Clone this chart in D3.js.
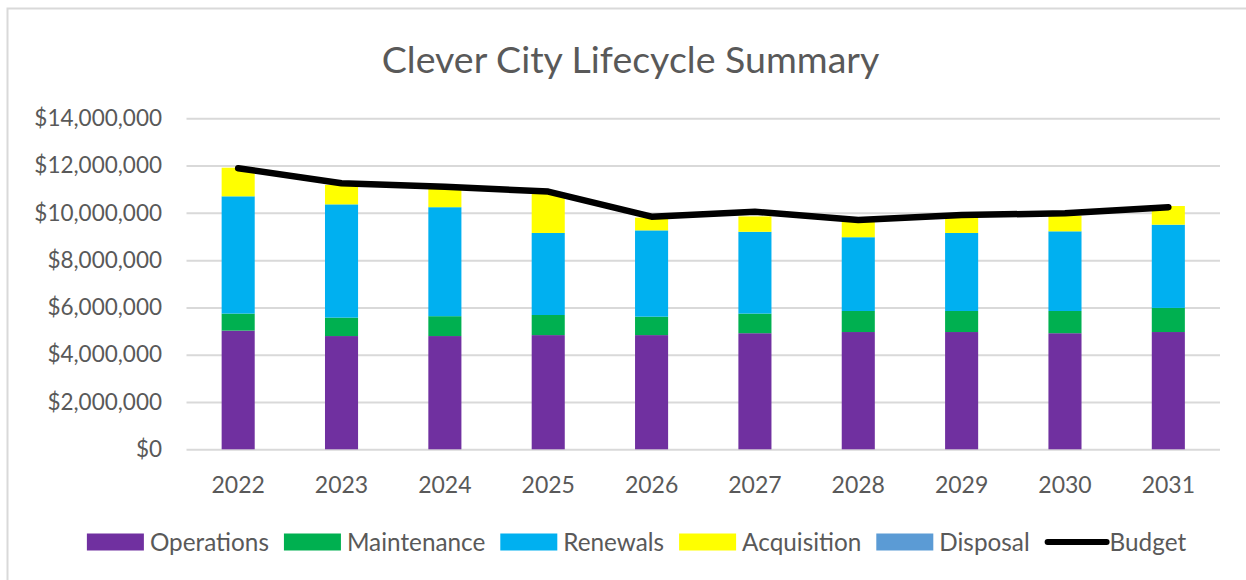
<!DOCTYPE html>
<html>
<head>
<meta charset="utf-8">
<script src="https://cdn.jsdelivr.net/npm/d3@7"></script>
<style>
  html, body { margin: 0; padding: 0; background: #ffffff; }
  svg { display: block; }
  text { font-family: Lato, "Open Sans", sans-serif; fill: #595959; }
</style>
</head>
<body>
<svg id="chart" width="1246" height="580"></svg>
<script>
// ---- Data ----
const years = ["2022", "2023", "2024", "2025", "2026", "2027", "2028", "2029", "2030", "2031"];
const operations  = [5020000, 4790000, 4790000, 4830000, 4830000, 4910000, 4960000, 4960000, 4910000, 4960000];
const maintenance = [720000, 780000, 840000, 850000, 780000, 830000, 890000, 890000, 940000, 1020000];
const renewals    = [4960000, 4790000, 4610000, 3470000, 3650000, 3460000, 3120000, 3300000, 3370000, 3520000];
const acquisition = [1210000, 820000, 800000, 1700000, 540000, 650000, 650000, 650000, 660000, 790000];
const disposal    = [0, 0, 0, 0, 0, 0, 0, 0, 0, 0];
const budget      = [11890000, 11250000, 11110000, 10900000, 9840000, 10050000, 9700000, 9910000, 9980000, 10240000];
const yTicks = [0, 2000000, 4000000, 6000000, 8000000, 10000000, 12000000, 14000000];
const seriesNames = ["Operations", "Maintenance", "Renewals", "Acquisition", "Disposal"];
const seriesColors = ["#7030A0", "#00B050", "#00B0F0", "#FFFF00", "#5B9BD5"];
const title = "Clever City Lifecycle Summary";

// ---- Layout ----
const W = 1246, H = 580;
const plot = { left: 186.5, right: 1220, top: 118.3, bottom: 449.3 };

const svg = d3.select("#chart");
svg.append("rect").attr("width", W).attr("height", H).attr("fill", "#fff");
// chart area border
svg.append("rect")
  .attr("x", 7.5).attr("y", 8.5).attr("width", W + 20).attr("height", H + 20)
  .attr("fill", "none").attr("stroke", "#d9d9d9").attr("stroke-width", 2);

// table built from arrays
const table = years.map((y, i) => ({
  year: y,
  Operations: operations[i],
  Maintenance: maintenance[i],
  Renewals: renewals[i],
  Acquisition: acquisition[i],
  Disposal: disposal[i],
  Budget: budget[i]
}));

const x = d3.scaleBand().domain(years).range([plot.left, plot.right]).paddingInner(0.68).paddingOuter(0.34);
const y = d3.scaleLinear().domain([0, 14000000]).range([plot.bottom, plot.top]);
const color = d3.scaleOrdinal().domain(seriesNames).range(seriesColors);

// gridlines + y labels
const yAxis = d3.axisLeft(y).tickValues(yTicks).tickFormat(d3.format("$,.0f"))
  .tickSize(-(plot.right - plot.left)).tickPadding(24.5);
const gy = svg.append("g").attr("transform", `translate(${plot.left},0)`).call(yAxis);
gy.select(".domain").remove();
gy.selectAll(".tick line").attr("stroke", "#d9d9d9").attr("stroke-width", 2);
gy.selectAll(".tick text").attr("font-size", 22.5).attr("fill", "#595959")
  .style("font-family", "Lato, 'Open Sans', sans-serif");

// stacked bars
const stack = d3.stack().keys(seriesNames);
const layers = stack(table);
svg.append("g").selectAll("g").data(layers).join("g")
  .attr("fill", d => color(d.key))
  .selectAll("rect").data(d => d).join("rect")
  .attr("x", d => x(d.data.year))
  .attr("width", x.bandwidth())
  .attr("y", d => y(d[1]))
  .attr("height", d => y(d[0]) - y(d[1]));

// budget line
const line = d3.line().x(d => x(d.year) + x.bandwidth() / 2).y(d => y(d.Budget));
svg.append("path").datum(table)
  .attr("d", line).attr("fill", "none").attr("stroke", "#000")
  .attr("stroke-width", 6.5).attr("stroke-linecap", "round").attr("stroke-linejoin", "round");

// x labels
const xAxis = d3.axisBottom(x).tickSize(0).tickPadding(0);
const gx = svg.append("g").attr("transform", `translate(0,${plot.bottom})`).call(xAxis);
gx.select(".domain").remove();
gx.selectAll(".tick text").attr("font-size", 23).attr("dy", null).attr("y", 44)
  .attr("fill", "#595959").style("font-family", "Lato, 'Open Sans', sans-serif");

// title
svg.append("text").attr("x", 630.5).attr("y", 73).attr("text-anchor", "middle")
  .attr("font-size", 37.5).text(title);

// legend
const legendItems = seriesNames.map((n, i) => ({ name: n, color: seriesColors[i], type: "rect" }))
  .concat([{ name: "Budget", color: "#000", type: "line" }]);
const lg = svg.append("g");
let cx = 0;
const legendY = 542;
legendItems.forEach((it, i) => {
  const g = lg.append("g").attr("transform", `translate(${cx},0)`);
  let tx;
  if (it.type === "rect") {
    g.append("rect").attr("x", 0).attr("y", legendY - 8.5).attr("width", 57).attr("height", 17).attr("fill", it.color);
    tx = 63;
  } else {
    g.append("line").attr("x1", 3).attr("x2", 62).attr("y1", legendY).attr("y2", legendY)
      .attr("stroke", it.color).attr("stroke-width", 6).attr("stroke-linecap", "round");
    tx = 65;
  }
  const t = g.append("text").attr("x", tx).attr("y", legendY + 8.5).attr("font-size", 24.3).text(it.name);
  const w = t.node().getComputedTextLength();
  cx += tx + w + 15;
});
const totalW = cx - 15;
lg.attr("transform", `translate(${636.5 - totalW / 2},0)`);
</script>
</body>
</html>
